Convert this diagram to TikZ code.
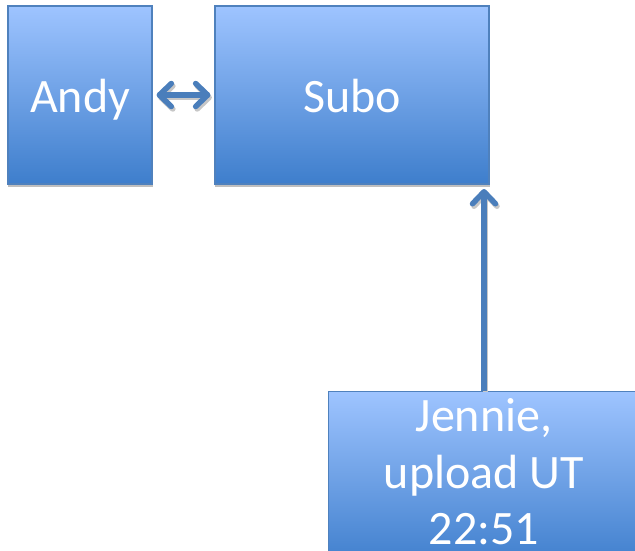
\documentclass[tikz,border=0pt]{standalone}
\usepackage{fontspec}
\setmainfont{Carlito}
\usetikzlibrary{arrows.meta}
\definecolor{boxtop}{RGB}{158,196,255}
\definecolor{boxbot}{RGB}{62,126,204}
\definecolor{boxline}{RGB}{79,129,189}
\definecolor{arrowcol}{RGB}{74,126,187}
\tikzset{
  pbox/.style={draw=boxline, line width=1.2pt, top color=boxtop, bottom color=boxbot,
    inner sep=0pt},
  ptext/.style={text=white, font=\fontsize{48}{57}\selectfont, anchor=base, inner sep=0pt, text depth=0pt},
  tip/.tip={Straight Barb[length=12pt,width=23pt,line width=5.5pt,round]},
  conn/.style={draw=arrowcol, line width=5.5pt},
  connshadow/.style={draw=black!22, line width=5.5pt},
}
\begin{document}
\begin{tikzpicture}[x=1pt,y=-1pt]
\useasboundingbox (0,0) rectangle (635,551);
\clip (0,0) rectangle (635,551);
% shadows
\fill[black!25] (8,184) rectangle (153,187);
\fill[black!25] (215,184) rectangle (490,187);
% boxes
\node[pbox, minimum width=144pt, minimum height=178pt] (andy) at (80,95) {};
\node[pbox, minimum width=274pt, minimum height=178pt] (subo) at (352,95) {};
\node[pbox, minimum width=310pt, minimum height=175pt, anchor=north west] (jen) at (328,391) {};
\node[ptext] (andytext) at (80,112) {Andy};
\node[ptext] (subotext) at (352,112) {Subo};
\node[ptext] (jt1) at (484,431) {Jennie,};
\node[ptext] (jt2) at (484,488) {upload UT};
\node[ptext] (jt3) at (484,544) {22:51};
% connectors
\coordinate (jtop) at (484,391);
\coordinate (sbot) at (484,185);
\draw[connshadow, {tip}-{tip}, shorten <=4pt, shorten >=4pt] ([shift={(1.5,2.5)}]andy.east) -- ([shift={(1.5,2.5)}]subo.west);
\draw[conn, {tip}-{tip}, shorten <=4pt, shorten >=4pt] (andy.east) -- (subo.west);
\draw[connshadow, -{tip}, shorten >=4pt] ([shift={(1.5,1)}]jtop) -- ([shift={(1.5,2.5)}]sbot);
\draw[conn, -{tip}, shorten >=4pt] (jtop) -- (sbot);
\end{tikzpicture}
\end{document}
